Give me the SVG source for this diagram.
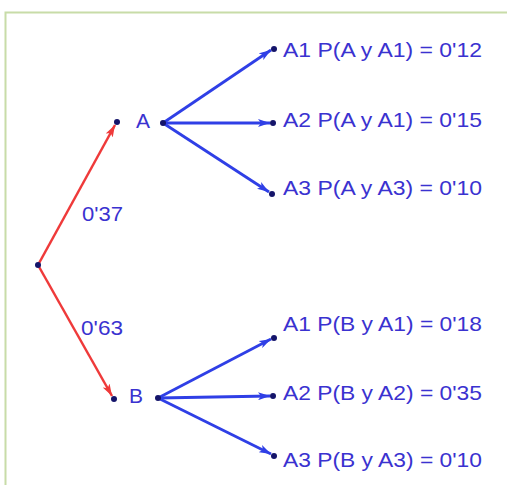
<svg xmlns="http://www.w3.org/2000/svg" width="507" height="485" viewBox="0 0 507 485">
<defs>
<style>
.lbl{font-family:"Liberation Sans",Arial,sans-serif;font-size:21px;fill:#3a32d0}
.blue{stroke:#2f3fe6;stroke-width:2.8;fill:none}
.red{stroke:#ef3a3a;stroke-width:2.5;fill:none}
.dot{fill:#14146a}
</style>
<marker id="ab" viewBox="0 0 12 8" refX="12" refY="4" markerWidth="12" markerHeight="8" markerUnits="userSpaceOnUse" orient="auto">
<path d="M0,0 L12,4 L0,8 L3,4 Z" fill="#2f3fe6"/>
</marker>
<marker id="ar" viewBox="0 0 12 8" refX="12" refY="4" markerWidth="12" markerHeight="8" markerUnits="userSpaceOnUse" orient="auto">
<path d="M0,0 L12,4 L0,8 L3,4 Z" fill="#ef3a3a"/>
</marker>
</defs>
<rect width="507" height="485" fill="#ffffff"/>
<path d="M5.5,485 L5.5,12.5 L507,12.5" fill="none" stroke="#c8dca8" stroke-width="2"/>
<g id="connectors">
<line class="red" x1="38" y1="265" x2="115" y2="125" marker-end="url(#ar)"/>
<line class="red" x1="38" y1="265" x2="112" y2="396" marker-end="url(#ar)"/>
<line class="blue" x1="163" y1="123" x2="271" y2="50" marker-end="url(#ab)"/>
<line class="blue" x1="163" y1="123" x2="270" y2="123" marker-end="url(#ab)"/>
<line class="blue" x1="163" y1="123" x2="269" y2="192" marker-end="url(#ab)"/>
<line class="blue" x1="158" y1="398" x2="271" y2="339" marker-end="url(#ab)"/>
<line class="blue" x1="158" y1="398" x2="270" y2="396" marker-end="url(#ab)"/>
<line class="blue" x1="158" y1="398" x2="271" y2="454" marker-end="url(#ab)"/>
<text class="lbl" x="82" y="221" textLength="41" lengthAdjust="spacingAndGlyphs">0'37</text>
<text class="lbl" x="81" y="335" textLength="42" lengthAdjust="spacingAndGlyphs">0'63</text>
</g>
<g id="root"><circle class="dot" cx="38" cy="265" r="3"/></g>
<g id="A">
<circle class="dot" cx="117" cy="122" r="3"/>
<text class="lbl" x="136" y="128">A</text>
<circle class="dot" cx="163" cy="123" r="3"/>
</g>
<g id="B">
<circle class="dot" cx="114" cy="399" r="3"/>
<text class="lbl" x="129" y="403">B</text>
<circle class="dot" cx="158" cy="398" r="3"/>
</g>
<g id="A_A1"><circle class="dot" cx="274" cy="49" r="3"/><text class="lbl" x="283" y="57" textLength="199" lengthAdjust="spacingAndGlyphs">A1 P(A y A1) = 0'12</text></g>
<g id="A_A2"><circle class="dot" cx="273" cy="123" r="3"/><text class="lbl" x="283" y="127" textLength="199" lengthAdjust="spacingAndGlyphs">A2 P(A y A1) = 0'15</text></g>
<g id="A_A3"><circle class="dot" cx="272" cy="194" r="3"/><text class="lbl" x="283" y="195" textLength="199" lengthAdjust="spacingAndGlyphs">A3 P(A y A3) = 0'10</text></g>
<g id="B_A1"><circle class="dot" cx="274" cy="338" r="3"/><text class="lbl" x="283" y="331" textLength="199" lengthAdjust="spacingAndGlyphs">A1 P(B y A1) = 0'18</text></g>
<g id="B_A2"><circle class="dot" cx="273" cy="396" r="3"/><text class="lbl" x="283" y="400" textLength="199" lengthAdjust="spacingAndGlyphs">A2 P(B y A2) = 0'35</text></g>
<g id="B_A3"><circle class="dot" cx="274" cy="456" r="3"/><text class="lbl" x="283" y="467" textLength="199" lengthAdjust="spacingAndGlyphs">A3 P(B y A3) = 0'10</text></g>
</svg>
